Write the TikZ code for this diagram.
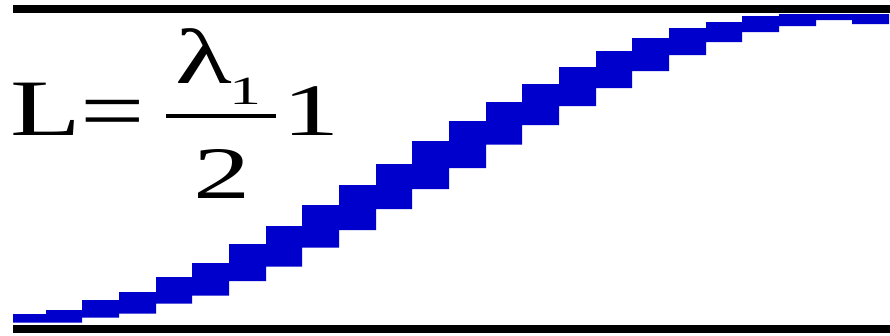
\documentclass[tikz,border=0pt]{standalone}
\usepackage{fontspec}
\setmainfont{Liberation Serif}
\definecolor{stairblue}{RGB}{0,0,204}
\begin{document}
\begin{tikzpicture}[x=1pt,y=-1pt,
  glyph/.style={inner sep=0pt,outer sep=0pt,anchor=base},
  rule/.style={line width=8pt,black}]
\useasboundingbox (0,0) rectangle (890,335);
% horizontal rules
\coordinate (tl) at (13,9); \coordinate (tr) at (890,9);
\coordinate (bl) at (13,329); \coordinate (br) at (890,329);
\draw[rule] (tl) -- (tr);
\draw[rule] (bl) -- (br);
% staircase
\fill[stairblue]
 (13,314) -- (46,314) -- (46,310) -- (82,310) -- (82,300) -- (119,300) -- (119,292)
 -- (156,292) -- (156,277) -- (192,277) -- (192,263) -- (229,263) -- (229,244)
 -- (266,244) -- (266,226) -- (302,226) -- (302,205) -- (339,205) -- (339,185)
 -- (376,185) -- (376,164) -- (412,164) -- (412,141) -- (449,141) -- (449,121)
 -- (486,121) -- (486,102) -- (522,102) -- (522,84) -- (559,84) -- (559,67)
 -- (596,67) -- (596,51) -- (632,51) -- (632,38) -- (669,38) -- (669,28)
 -- (706,28) -- (706,22) -- (742,22) -- (742,16) -- (779,16) -- (779,14)
 -- (889,14)
 -- (889,24) -- (852,24) -- (852,20) -- (816,20) -- (816,26) -- (779,26)
 -- (779,32) -- (742,32) -- (742,42) -- (706,42) -- (706,55) -- (669,55)
 -- (669,71) -- (632,71) -- (632,88) -- (596,88) -- (596,106) -- (559,106)
 -- (559,125) -- (522,125) -- (522,144.7) -- (486,144.7) -- (486,168) -- (449,168)
 -- (449,189) -- (412,189) -- (412,209) -- (376,209) -- (376,230) -- (339,230)
 -- (339,247.7) -- (302,247.7) -- (302,266.7) -- (266,266.7) -- (266,281) -- (229,281)
 -- (229,295.7) -- (192,295.7) -- (192,303.7) -- (156,303.7) -- (156,313.7) -- (119,313.7)
 -- (119,317.7) -- (82,317.7) -- (82,322.7) -- (13,322.7) -- cycle;
% formula
\node[glyph] (L) at (46,135) {\scalebox{1.45}[1]{\fontsize{80}{80}\selectfont L}};
\node[glyph] (eq) at (113,140) {\scalebox{1.3}[1]{\fontsize{88}{88}\selectfont =}};
\node[glyph] (lam) at (204,83) {\scalebox{1.5}[1]{\fontsize{78}{78}\selectfont λ}};
\node[glyph] (sub) at (245,104) {\scalebox{1.6}[1]{\fontsize{40}{40}\selectfont 1}};
\coordinate (fl) at (166,116); \coordinate (fr) at (276,116);
\draw[line width=4pt] (fl) -- (fr);
\node[glyph] (two) at (222,198) {\scalebox{1.55}[1]{\fontsize{74}{74}\selectfont 2}};
\node[glyph] (one) at (311,135) {\scalebox{1.55}[1]{\fontsize{74}{74}\selectfont 1}};
\end{tikzpicture}
\end{document}
